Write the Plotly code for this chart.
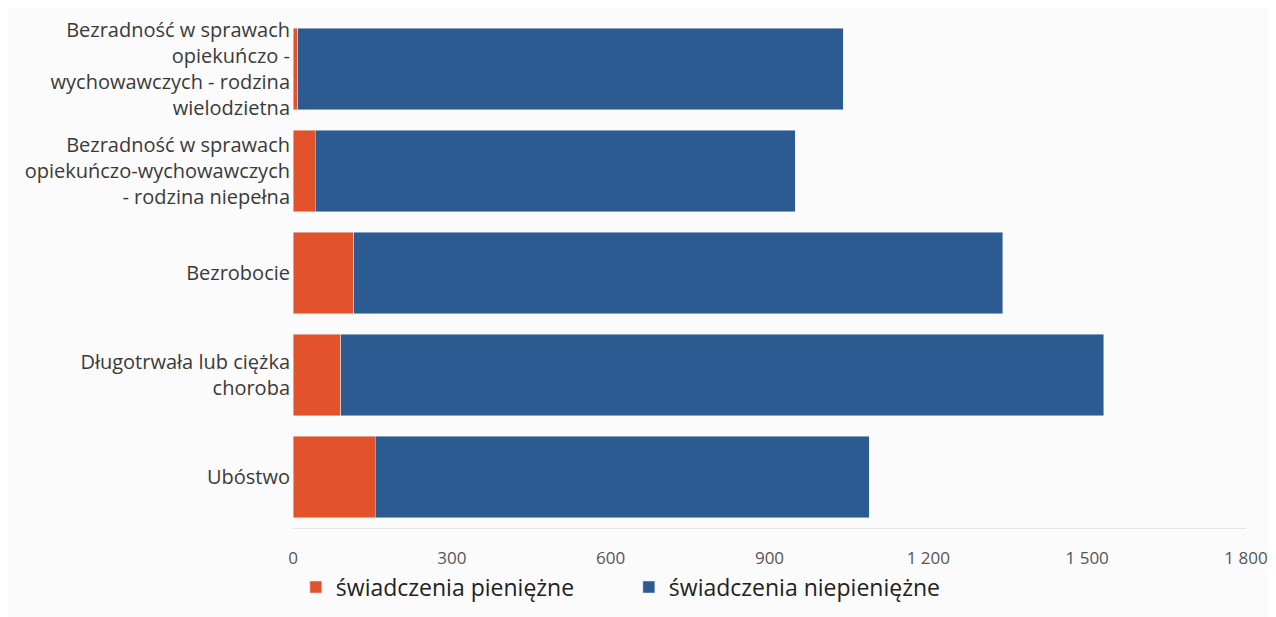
import plotly.graph_objects as go

# categories top to bottom
categories = [
    "Bezradność w sprawach<br>opiekuńczo -<br>wychowawczych - rodzina<br>wielodzietna",
    "Bezradność w sprawach<br>opiekuńczo-wychowawczych<br>- rodzina niepełna",
    "Bezrobocie",
    "Długotrwała lub ciężka<br>choroba",
    "Ubóstwo",
]
cash = [9, 42, 115, 90, 155]
non_cash = [1030, 907, 1226, 1441, 933]
tick_vals = [0, 300, 600, 900, 1200, 1500, 1800]

fig = go.Figure()
fig.add_trace(go.Bar(y=categories, x=cash, orientation="h",
                     name="świadczenia pieniężne", marker_color="#e2522b"))
fig.add_trace(go.Bar(y=categories, x=non_cash, orientation="h",
                     name="świadczenia niepieniężne", marker_color="#2b5b91"))

# page body adds an 8px offset, so the figure is a bit smaller
fig.update_layout(
    barmode="stack",
    bargap=0.2,
    width=1268, height=609,
    margin=dict(l=285, r=18, t=8, b=83),
    paper_bgcolor="#fbfbfb",
    plot_bgcolor="#fbfbfb",
    separators=", ",
    font=dict(family="Open Sans", color="#3a3a3a", size=20),
    legend=dict(orientation="h", traceorder="normal", x=0.003, y=-0.158,
                yanchor="bottom", entrywidth=288,
                font=dict(size=23, color="#222")),
    xaxis=dict(range=[0, 1800], tickvals=tick_vals, tickformat=",d",
               showgrid=False, zeroline=False, showline=True,
               linecolor="#e2e4e8", linewidth=1,
               ticks="outside", ticklen=15, tickcolor="rgba(0,0,0,0)",
               ticklabeloverflow="allow",
               tickfont=dict(size=17, color="#555")),
    yaxis=dict(autorange="reversed", showgrid=False, ticks="",
               ticklabelstandoff=2, tickfont=dict(size=20, color="#3a3a3a")),
)

fig.write_html("out.html")
